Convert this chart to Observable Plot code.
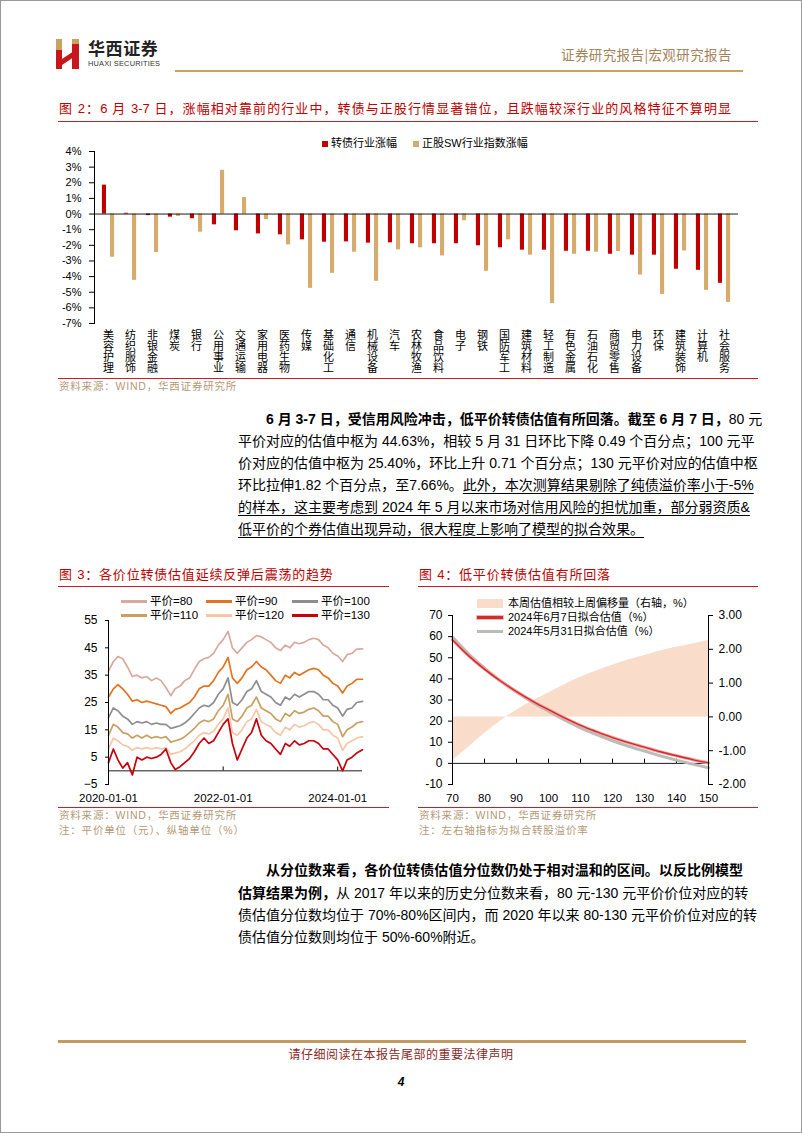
<!DOCTYPE html>
<html><head><meta charset="utf-8">
<script src="https://cdn.jsdelivr.net/npm/d3@7"></script>
<script src="https://cdn.jsdelivr.net/npm/@observablehq/plot@0.6"></script>
<style>
html,body{margin:0;padding:0;background:#fff;}
#page{position:relative;width:802px;height:1133px;background:#fff;overflow:hidden;font-family:"Liberation Sans","Noto Sans CJK SC",sans-serif;color:#000;box-sizing:border-box;border:1px solid #9a9a9a;}
.abs{position:absolute;}
.hr{position:absolute;height:0;}
.ftitle{position:absolute;font-size:13px;color:#c00000;white-space:nowrap;letter-spacing:0.8px;line-height:18px;}
.src{position:absolute;font-size:10.5px;color:#b39a78;white-space:nowrap;letter-spacing:0.8px;line-height:14px;}
.ln{position:absolute;left:237px;width:505px;font-size:14px;line-height:20px;text-align:justify;text-align-last:justify;white-space:nowrap;}
.ln.first{left:265px;width:477px;}
.ln.last{text-align-last:left;}
.u{text-decoration:underline;text-underline-offset:3px;}
b{font-weight:bold;}
.leg{position:absolute;font-size:11px;line-height:13px;white-space:nowrap;display:flex;align-items:center;}
.sw{display:inline-block;margin-right:3px;}
</style></head>
<body><div id="page">
<svg class="abs" style="left:53px;top:37px" width="30" height="32" viewBox="0 0 30 32">
  <rect x="2" y="1" width="6" height="11" fill="#c9a25f"/>
  <rect x="2" y="12" width="6" height="19" fill="#c8161d"/>
  <polygon points="8,21 20,13 20,19 8,27" fill="#c8161d"/>
  <rect x="18" y="6" width="7" height="25" fill="#c8161d"/>
  <rect x="18" y="1" width="7" height="5" fill="#c9a25f"/>
</svg>
<div class="abs" style="left:87px;top:38px;font-size:17px;line-height:18px;font-weight:bold;letter-spacing:0.6px;color:#222;font-family:'Noto Sans CJK SC'">华西证券</div>
<div class="abs" style="left:87px;top:59px;font-size:7.4px;line-height:8px;color:#333;letter-spacing:0.2px;">HUAXI SECURITIES</div>
<div class="abs" style="left:560px;top:44px;font-size:13.5px;line-height:18px;color:#a4845a;letter-spacing:0.4px;white-space:nowrap;font-family:'Noto Sans CJK SC'">证券研究报告|宏观研究报告</div>
<div class="hr" style="left:174px;top:69px;width:568px;border-top:2px solid #c9a266;"></div>

<div class="ftitle" style="left:58px;top:99px;width:672px;text-align:justify;text-align-last:justify;letter-spacing:0;">图 2：6 月 3-7 日，涨幅相对靠前的行业中，转债与正股行情显著错位，且跌幅较深行业的风格特征不算明显</div>
<div class="hr" style="left:57px;top:120px;width:700px;border-top:1.5px solid #c8202a;"></div>

<div class="leg" style="left:321px;top:136px;"><span class="sw" style="width:6px;height:6px;background:#c00000"></span>转债行业涨幅</div>
<div class="leg" style="left:412px;top:136px;"><span class="sw" style="width:6px;height:6px;background:#d6ab6e"></span>正股SW行业指数涨幅</div>
<div id="fig2" class="abs" style="left:57px;top:135px;"></div>
<div class="hr" style="left:57px;top:377px;width:700px;border-top:1.5px solid #c8202a;"></div>
<div class="src" style="left:58px;top:378px;">资料来源：WIND，华西证券研究所</div>

<div class="ln first" style="top:408px;"><b>6 月 3-7 日，受信用风险冲击，低平价转债估值有所回落。截至 6 月 7 日，</b>80 元</div>
<div class="ln" style="top:430px;">平价对应的估值中枢为 44.63%，相较 5 月 31 日环比下降 0.49 个百分点；100 元平</div>
<div class="ln" style="top:452px;">价对应的估值中枢为 25.40%，环比上升 0.71 个百分点；130 元平价对应的估值中枢</div>
<div class="ln" style="top:474px;">环比拉伸1.82 个百分点，至7.66%。<span class="u">此外，本次测算结果剔除了纯债溢价率小于-5%</span></div>
<div class="ln u" style="top:496px;">的样本，这主要考虑到 2024 年 5 月以来市场对信用风险的担忧加重，部分弱资质&amp;</div>
<div class="ln last" style="top:518px;"><span class="u">低平价的个券估值出现异动，很大程度上影响了模型的拟合效果。</span></div>

<div class="ftitle" style="left:58px;top:565px;">图 3：各价位转债估值延续反弹后震荡的趋势</div>
<div class="ftitle" style="left:418px;top:565px;">图 4：低平价转债估值有所回落</div>
<div class="hr" style="left:57px;top:585px;width:331px;border-top:1.5px solid #c8202a;"></div>
<div class="hr" style="left:417px;top:585px;width:340px;border-top:1.5px solid #c8202a;"></div>

<div id="fig3" class="abs" style="left:57px;top:590px;"></div>
<div id="leg3"></div>
<div id="fig4" class="abs" style="left:417px;top:590px;"></div>
<div id="leg4"></div>

<div class="hr" style="left:57px;top:806px;width:331px;border-top:1.5px solid #c8202a;"></div>
<div class="hr" style="left:417px;top:806px;width:340px;border-top:1.5px solid #c8202a;"></div>
<div class="src" style="left:58px;top:807px;">资料来源：WIND，华西证券研究所</div>
<div class="src" style="left:58px;top:822px;">注：平价单位（元）、纵轴单位（%）</div>
<div class="src" style="left:418px;top:807px;">资料来源：WIND，华西证券研究所</div>
<div class="src" style="left:418px;top:822px;">注：左右轴指标为拟合转股溢价率</div>

<div class="ln first" style="top:859px;"><b>从分位数来看，各价位转债估值分位数仍处于相对温和的区间。以反比例模型</b></div>
<div class="ln" style="top:882px;"><b>估算结果为例，</b>从 2017 年以来的历史分位数来看，80 元-130 元平价价位对应的转</div>
<div class="ln" style="top:904px;">债估值分位数均位于 70%-80%区间内，而 2020 年以来 80-130 元平价价位对应的转</div>
<div class="ln last" style="top:926px;">债估值分位数则均位于 50%-60%附近。</div>

<div class="hr" style="left:57px;top:1039px;width:688px;border-top:3px solid #c29a5e;"></div>
<div class="abs" style="left:0;width:800px;top:1045px;text-align:center;font-size:12px;line-height:16px;color:#8a2a2a;letter-spacing:0.5px;font-family:'Noto Sans CJK SC'">请仔细阅读在本报告尾部的重要法律声明</div>
<div class="abs" style="left:0;width:800px;top:1073px;text-align:center;font-size:12px;line-height:16px;font-weight:bold;font-style:italic;">4</div>
</div>
<script>
// ---------- Figure 2 data ----------
const industries = ["美容护理","纺织服饰","非银金融","煤炭","银行","公用事业","交通运输","家用电器","医药生物","传媒","基础化工","通信","机械设备","汽车","农林牧渔","食品饮料","电子","钢铁","国防军工","建筑材料","轻工制造","有色金属","石油石化","商贸零售","电力设备","环保","建筑装饰","计算机","社会服务"];
const cbChange = [1.85,0.05,-0.1,-0.2,-0.3,-0.69,-1.07,-1.27,-1.33,-1.65,-1.8,-1.78,-1.86,-1.84,-1.9,-1.9,-1.9,-2.03,-2.16,-2.31,-2.31,-2.38,-2.38,-2.57,-2.63,-2.63,-3.53,-3.6,-4.43];
const stockChange = [-2.76,-4.24,-2.46,-0.15,-1.16,2.8,1.05,-0.36,-1.97,-4.75,-3.79,-2.44,-4.3,-2.29,-2.16,-2.68,-0.43,-3.66,-1.65,-2.63,-5.72,-2.57,-2.44,-2.4,-3.9,-5.14,-2.36,-4.88,-5.65];
const fig2YTicks = [4,3,2,1,0,-1,-2,-3,-4,-5,-6,-7];

// ---------- Figure 3 data (monthly readings, last point 2024-06-07) ----------
const fig3Dates = [...d3.utcMonth.range(new Date("2020-01-01"), new Date("2024-06-01")), new Date("2024-06-07")];
const fig3Keys = ["平价=80","平价=90","平价=100","平价=110","平价=120","平价=130"];
const par80 = [36.5,40,41.8,41,38,34.5,35,34,34.5,33,34,33, 30.5,27.5,30,31,33,34,37,40,41,41.5,43,46, 48,51,45,43,45,47,48,49.5,49,48,47,45, 44,46,45,47,46.5,47,48,48.5,48,46,45,43, 42,40,42.5,43,44.5,44.6];
const par90 = [27,30,31.5,30,28,25.5,26,25,25.5,25,24.5,24, 23.5,21,22.5,23,24,25,27,30,31,31,33,36, 38,41.5,34,32,34,37,38,40,38,37,35,33, 32,35,34,36,35,36,37,37.5,37,35,34,32, 31,28.5,31,32,33.5,33.5];
const par100 = [19.5,23,22,20,19,17,18,17.5,18,17,17.5,17, 17,15.5,16,16.5,17.5,19,21,23,24,23.5,25,28, 30,34,25,24,26,29,30,33,29,28,27,25, 24,27,26,28,27,28,29,29,28,26,26,24, 23,20,22.5,23,25,25.4];
const par110 = [13,17,16,14,13.5,12,13,12,13,12,12.5,12, 12.5,10.5,11,11.5,12.5,14,15.5,17.5,18.5,18,19,22, 24,28,19,18,20,23,24,27,23,22,21,19, 18,21,20,22,21,21.5,22.5,23,22,20,20,18, 17,12.5,15,16,17.5,18];
const par120 = [8,12,11,9.5,9,7.5,8.5,8,8.5,8,8.5,8, 8.5,6,6.5,7,8,9.5,11,13,14,13.5,14.5,17, 19,23,14,13,15,18,19,22.5,18,17,16,14, 13,16,15,17,16,16.5,17.5,18,17,15,15,13, 12,7.5,10,11,12,12.5];
const par130 = [3,8,4,1,3,-1.5,5,4,5,4.5,5,6, 8,3,0.5,1.5,3,4.5,7,10,12,10,11,14, 17,19,10,4,8,12,14,19,13,11,10,8, 6,10,9,11,9.5,10,11,11,10,8,8,6, 4,0,4,5,6.5,7.7];
const fig3Colors = ["#d9a9a0","#e2731f","#8e8e8e","#c9a064","#f7c6a6","#c8000a"];
const fig3YTicks = [-5,5,15,25,35,45,55];
const fig3XTicks = ["2020-01-01","2022-01-01","2024-01-01"];

// ---------- Figure 4 data ----------
const parity = [70,75,80,85,90,95,100,105,110,115,120,125,130,135,140,145,150];
const fitJun7 = [58.5,51,44.63,39,34,29.5,25.4,21.5,18,15,12.2,9.8,7.66,5.5,3.6,1.8,0.2];
const fitMay31 = [59.8,51.9,45.12,39.1,33.8,29.0,24.69,20.55,16.8,13.6,10.7,8.1,5.84,3.55,1.55,-0.35,-2.05];
const weeklyShift = [-1.3,-0.9,-0.49,-0.12,0.2,0.47,0.71,0.95,1.17,1.36,1.53,1.68,1.82,1.95,2.06,2.16,2.26];
const fig4LeftTicks = [-10,0,10,20,30,40,50,60,70];
const fig4RightTicks = [-2,-1,0,1,2,3];
const fig4XTicks = [70,80,90,100,110,120,130,140,150];

const baseStyle = {fontFamily: "'Liberation Sans','Noto Sans CJK SC',sans-serif", fontSize: "11px", color: "#000", background: "transparent", overflow: "visible"};

// ---------- Figure 2 ----------
const barData = industries.map((name, i) => ({name, cb: cbChange[i], stock: stockChange[i]}));
const fig2 = Plot.plot({
  width: 700, height: 240,
  marginLeft: 36, marginRight: 20, marginTop: 15, marginBottom: 53,
  style: baseStyle,
  x: {domain: industries, range: [31.8, 683.2], padding: 0, label: null},
  y: {domain: [-7, 4], label: null},
  marks: [
    Plot.barY(barData, {x: "name", y: "cb", fill: "#c00000", insetLeft: 4.9, insetRight: 13.0}),
    Plot.barY(barData, {x: "name", y: "stock", fill: "#d6ab6e", insetLeft: 13.0, insetRight: 4.9}),
    Plot.ruleY([0], {stroke: "#000", strokeWidth: 0.9}),
    Plot.axisY({ticks: fig2YTicks, tickFormat: d => d + "%", tickSize: 5, tickPadding: 8, fontSize: 11, label: null}),
    Plot.frame({anchor: "left", stroke: "#000"}),
    Plot.axisX({tickSize: 0, tickPadding: 8, tickFormat: d => d.split("").join("\n"), lineHeight: 1.0, fontSize: 11, label: null})
  ]
});
document.getElementById("fig2").appendChild(fig2);

// ---------- Figure 3 ----------
const seriesVals = [par80, par90, par100, par110, par120, par130];
const fig3Data = fig3Keys.flatMap((key, k) => seriesVals[k].map((v, i) => ({date: fig3Dates[i], value: v, key})));
const xTicks3 = fig3XTicks.map(s => new Date(s));
const fig3 = Plot.plot({
  width: 331, height: 215,
  marginLeft: 50, marginRight: 27, marginTop: 29, marginBottom: 22,
  style: baseStyle,
  x: {type: "utc", domain: [new Date("2020-01-01"), new Date("2024-06-07")], label: null},
  y: {domain: [-5, 55], label: null},
  color: {domain: fig3Keys, range: fig3Colors},
  marks: [
    Plot.ruleY([0], {stroke: "#000", strokeWidth: 0.9}),
    Plot.lineY(fig3Data, {x: "date", y: "value", z: "key", stroke: "key", strokeWidth: 1.7}),
    Plot.ruleX(xTicks3, {x: d => d, y1: 0, y2: 1.4, stroke: "#000"}),
    Plot.axisY({ticks: fig3YTicks, tickSize: 3, tickPadding: 8, fontSize: 12, label: null}),
    Plot.frame({anchor: "left", stroke: "#000"}),
    Plot.axisX({ticks: xTicks3, tickFormat: d3.utcFormat("%Y-%m-%d"), tickSize: 0, tickPadding: 9, fontSize: 11.5, label: null})
  ]
});
document.getElementById("fig3").appendChild(fig3);

const leg3Pos = [[120,594],[205,594],[291,594],[120,608],[205,608],[291,608]];
document.getElementById("leg3").innerHTML = fig3Keys.map((k, i) =>
  `<div class="leg" style="left:${leg3Pos[i][0]}px;top:${leg3Pos[i][1]}px;font-size:11.5px;"><span class="sw" style="width:26px;height:3px;background:${fig3Colors[i]}"></span>${k}</div>`).join("");

// ---------- Figure 4 ----------
const r2l = r => -10 + (r + 2) * 16; // right-axis value mapped onto the left scale
const fig4Data = parity.map((p, i) => ({p, cur: fitJun7[i], prev: fitMay31[i], shift: weeklyShift[i]}));
const fig4 = Plot.plot({
  width: 340, height: 215,
  marginLeft: 34, marginRight: 50, marginTop: 24, marginBottom: 22,
  style: baseStyle,
  x: {domain: [70, 150], label: null},
  y: {domain: [-10, 70], label: null},
  marks: [
    Plot.areaY(fig4Data, {x: "p", y1: () => r2l(0), y2: d => r2l(d.shift), fill: "#f9dcc9", curve: "monotone-x"}),
    Plot.ruleY([0], {stroke: "#000", strokeWidth: 0.9}),
    Plot.ruleX(fig4XTicks, {x: d => d, y1: 0, y2: 2, stroke: "#000"}),
    Plot.lineY(fig4Data, {x: "p", y: "prev", stroke: "#b9bdb8", strokeWidth: 3, curve: "monotone-x"}),
    Plot.lineY(fig4Data, {x: "p", y: "cur", stroke: "#f2a0a0", strokeWidth: 3.2, curve: "monotone-x"}),
    Plot.lineY(fig4Data, {x: "p", y: "cur", stroke: "#d42a2a", strokeWidth: 1.4, curve: "monotone-x"}),
    Plot.axisY({anchor: "left", ticks: fig4LeftTicks, tickSize: 4, tickFormat: () => "", label: null}),
    Plot.text(fig4LeftTicks, {y: d => d, frameAnchor: "left", dx: -10, textAnchor: "end", text: d => String(d), fontSize: 12}),
    Plot.axisY({anchor: "right", ticks: fig4RightTicks.map(r2l), tickFormat: v => ((v + 10) / 16 - 2).toFixed(2), tickSize: 4, tickPadding: 6, fontSize: 12, label: null}),
    Plot.frame({anchor: "left", stroke: "#000"}),
    Plot.frame({anchor: "right", stroke: "#000"}),
    Plot.axisX({ticks: fig4XTicks, tickSize: 0, tickPadding: 9, fontSize: 11.5, label: null})
  ]
});
document.getElementById("fig4").appendChild(fig4);

document.getElementById("leg4").innerHTML =
  `<div class="leg" style="left:476px;top:596px;"><span class="sw" style="width:26px;height:9px;background:#f9dcc9;margin-right:5px"></span>本周估值相较上周偏移量（右轴，%）</div>` +
  `<div class="leg" style="left:476px;top:610px;"><span class="sw" style="width:26px;height:3px;background:#d42a2a;box-shadow:0 0 0 0.8px #f2a0a0;margin-right:5px"></span>2024年6月7日拟合估值（%）</div>` +
  `<div class="leg" style="left:476px;top:624px;"><span class="sw" style="width:26px;height:3px;background:#b9bdb8;margin-right:5px"></span>2024年5月31日拟合估值（%）</div>`;
</script>
</body></html>
